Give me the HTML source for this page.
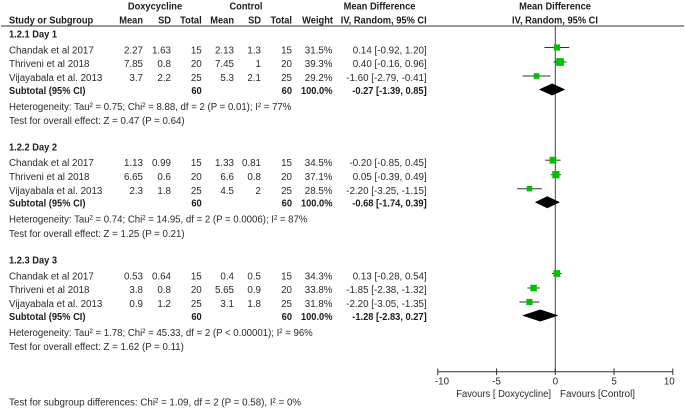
<!DOCTYPE html>
<html lang="en">
<head>
<meta charset="utf-8">
<title>Forest plot: Doxycycline vs Control</title>
<style>
html,body{margin:0;padding:0;background:#fff;}
#chart{display:block;width:685px;height:408px;filter:blur(0.35px);font-family:"Liberation Sans",Arial,sans-serif;font-size:10.2px;fill:#2a2a2a;}
#chart .b{font-weight:bold;font-size:10.4px;fill:#1c1c1c;}
</style>
</head>
<body>
<svg id="chart" xmlns="http://www.w3.org/2000/svg" width="685" height="408" viewBox="0 0 685 408">
<rect width="685" height="408" fill="#ffffff"/>
<g id="content"></g>
</svg>
<script>
const studies = ["Chandak et al 2017", "Thriveni et al 2018", "Vijayabala et al. 2013"];
const groupTitles = ["1.2.1 Day 1", "1.2.2 Day 2", "1.2.3 Day 3"];
const doxMean = [["2.27","7.85","3.7"],["1.13","6.65","2.3"],["0.53","3.8","0.9"]];
const doxSD = [["1.63","0.8","2.2"],["0.99","0.6","1.8"],["0.64","0.8","1.2"]];
const ctrlMean = [["2.13","7.45","5.3"],["1.33","6.6","4.5"],["0.4","5.65","3.1"]];
const ctrlSD = [["1.3","1","2.1"],["0.81","0.8","2"],["0.5","0.9","1.8"]];
const totals = ["15","20","25"];
const weights = [[31.5,39.3,29.2],[34.5,37.1,28.5],[34.3,33.8,31.8]];
const effect = [[0.14,0.40,-1.60],[-0.20,0.05,-2.20],[0.13,-1.85,-2.20]];
const ciLow = [[-0.92,-0.16,-2.79],[-0.85,-0.39,-3.25],[-0.28,-2.38,-3.05]];
const ciHigh = [[1.20,0.96,-0.41],[0.45,0.49,-1.15],[0.54,-1.32,-1.35]];
const subEffect = [-0.27,-0.68,-1.28];
const subLow = [-1.39,-1.74,-2.83];
const subHigh = [0.85,0.39,0.27];
const heterogeneity = [
  "Heterogeneity: Tau² = 0.75; Chi² = 8.88, df = 2 (P = 0.01); I² = 77%",
  "Heterogeneity: Tau² = 0.74; Chi² = 14.95, df = 2 (P = 0.0006); I² = 87%",
  "Heterogeneity: Tau² = 1.78; Chi² = 45.33, df = 2 (P < 0.00001); I² = 96%"
];
const overall = [
  "Test for overall effect: Z = 0.47 (P = 0.64)",
  "Test for overall effect: Z = 1.25 (P = 0.21)",
  "Test for overall effect: Z = 1.62 (P = 0.11)"
];
const axisTicks = [-10,-5,0,5,10];

const NS = "http://www.w3.org/2000/svg";
const root = document.getElementById("content");
const x = v => 555.3 + v * 11.75;
const size = w => 6.1 + (w - 31.5) * 0.21;
const f2 = v => v.toFixed(2);
const ciText = (e, l, h) => f2(e) + " [" + f2(l) + ", " + f2(h) + "]";

function txt(name, s, px, cy, anchor, bold, sx) {
  const t = document.createElementNS(NS, "text");
  
  
  const scale = sx || (bold ? 0.895 : 0.96);
  t.setAttribute("transform", "translate(" + px + "," + (cy + 3.7) + ") scale(" + scale + ",1)");
  if (anchor) t.setAttribute("text-anchor", anchor);
  if (bold) t.setAttribute("class", "b");
  t.textContent = s;
  root.appendChild(t);
}
function line(name, x1, y1, x2, y2, w, c) {
  const l = document.createElementNS(NS, "line");
  
  
  l.setAttribute("x1", x1);
  l.setAttribute("y1", y1);
  l.setAttribute("x2", x2);
  l.setAttribute("y2", y2);
  l.setAttribute("stroke", c || "#333");
  l.setAttribute("stroke-width", w || 1);
  root.appendChild(l);
}

/* header */
txt("doxycycline-header", "Doxycycline", 155, 6, "middle", true);
txt("control-header", "Control", 246, 6, "middle", true);
txt("mean-difference-header", "Mean Difference", 379.5, 6, "middle", true);
txt("plot-mean-difference-header", "Mean Difference", 555, 6, "middle", true);
txt("study-column-header", "Study or Subgroup", 9, 20, null, true);
txt("dox-mean-header", "Mean", 143, 20, "end", true);
txt("dox-sd-header", "SD", 171, 20, "end", true);
txt("dox-total-header", "Total", 201.7, 20, "end", true);
txt("control-mean-header", "Mean", 234, 20, "end", true);
txt("control-sd-header", "SD", 261, 20, "end", true);
txt("control-total-header", "Total", 292, 20, "end", true);
txt("weight-header", "Weight", 333, 20, "end", true);
txt("effect-method-header", "IV, Random, 95% CI", 426.7, 20, "end", true);
txt("plot-method-header", "IV, Random, 95% CI", 555, 20, "middle", true);
line("header-rule", 1, 26, 684, 26, 1, "#333");

/* zero line and axis */
line("zero-line", x(0), 26, x(0), 372, 1, "#444");
line("x-axis", x(axisTicks[0]), 371.8, x(axisTicks[axisTicks.length - 1]), 371.8, 1, "#333");
axisTicks.forEach(function (t) {
  line("x-axis-tick", x(t), 368.5, x(t), 375, 1, "#333");
  txt("x-axis-label", String(t), Math.min(669.3, Math.max(442, x(t))), 380.7, "middle");
});
txt("favours-doxycycline-label", "Favours [ Doxycycline]", 551, 393.5, "end", false, 0.925);
txt("favours-control-label", "Favours [Control]", 560, 393.5);

/* groups: vertical layout of the rows */
const groupY = [34, 146.7, 260];
const rowOffsets = [15.7, 29.5, 43.5];
const markerOffsets = [13.5, 28, 42];
const subOffset = 56.2;
const hetOffset = 72.3;
const testOffset = 86.5;
const diamondOffset = 55.5;

groupTitles.forEach(function (title, g) {
  const y0 = groupY[g];
  txt("group-title", title, 9, y0, null, true);
  studies.forEach(function (name, i) {
    const ry = y0 + rowOffsets[i];
    const my = y0 + markerOffsets[i];
    txt("study-name", name, 9, ry);
    txt("dox-mean", doxMean[g][i], 143, ry, "end");
    txt("dox-sd", doxSD[g][i], 171, ry, "end");
    txt("dox-total", totals[i], 201.7, ry, "end");
    txt("control-mean", ctrlMean[g][i], 234, ry, "end");
    txt("control-sd", ctrlSD[g][i], 261, ry, "end");
    txt("control-total", totals[i], 292, ry, "end");
    txt("study-weight", weights[g][i].toFixed(1) + "%", 332.5, ry, "end");
    txt("study-effect", ciText(effect[g][i], ciLow[g][i], ciHigh[g][i]), 426.7, ry, "end");
    line("ci-line", x(ciLow[g][i]), my, x(ciHigh[g][i]), my, 1, "#333");
    const s = size(weights[g][i]);
    const r = document.createElementNS(NS, "rect");
    
    
    r.setAttribute("x", x(effect[g][i]) - s / 2);
    r.setAttribute("y", my - s / 2);
    r.setAttribute("width", s);
    r.setAttribute("height", s);
    r.setAttribute("fill", "#00c000");
    root.appendChild(r);
  });
  const sy = y0 + subOffset;
  txt("subtotal-label", "Subtotal (95% CI)", 9, sy, null, true);
  txt("dox-subtotal", "60", 201.7, sy, "end", true);
  txt("control-subtotal", "60", 292, sy, "end", true);
  txt("subtotal-weight", "100.0%", 332.5, sy, "end", true);
  txt("subtotal-effect", ciText(subEffect[g], subLow[g], subHigh[g]), 426.7, sy, "end", true);
  txt("heterogeneity-note", heterogeneity[g], 9, y0 + hetOffset, null, false, 0.945);
  txt("overall-effect-note", overall[g], 9, y0 + testOffset, null, false, 0.95);
  const dy = y0 + diamondOffset;
  const d = document.createElementNS(NS, "polygon");
  
  
  d.setAttribute("points", [
    x(subLow[g]) + "," + dy,
    x(subEffect[g]) + "," + (dy - 6),
    x(subHigh[g]) + "," + dy,
    x(subEffect[g]) + "," + (dy + 6)
  ].join(" "));
  d.setAttribute("fill", "#000");
  root.appendChild(d);
});

txt("subgroup-differences-note", "Test for subgroup differences: Chi² = 1.09, df = 2 (P = 0.58), I² = 0%", 9, 402);
</script>
</body>
</html>
